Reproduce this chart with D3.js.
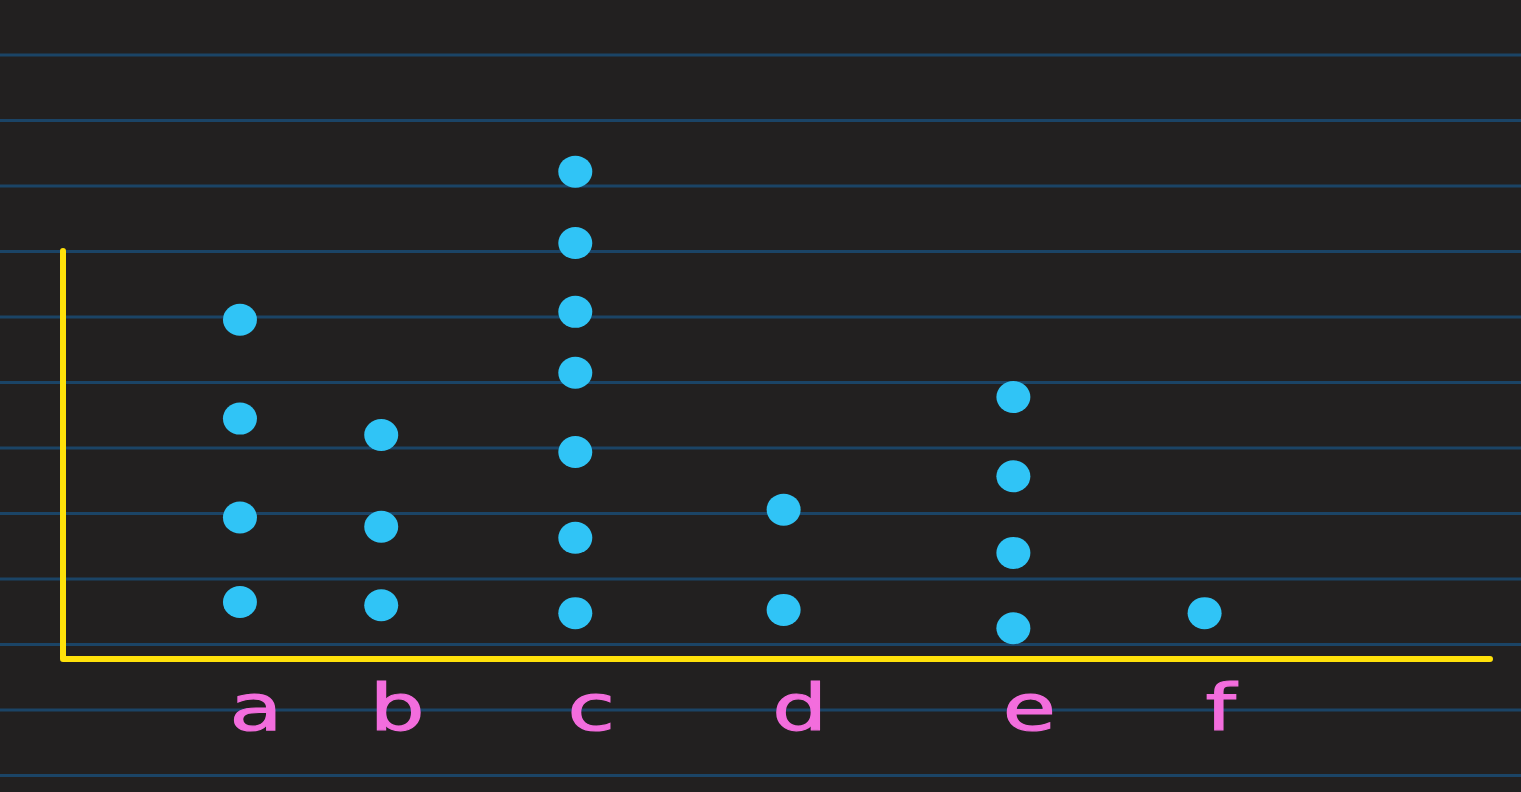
<!DOCTYPE html>
<html>
<head>
<meta charset="utf-8">
<script src="https://cdn.jsdelivr.net/npm/d3@7"></script>
<style>
  html, body { margin: 0; padding: 0; background: #222020; overflow: hidden; }
  svg { display: block; }
</style>
</head>
<body>
<svg id="chart" width="1521" height="792"></svg>
<script>
// ---- data ----
const categories = ["a", "b", "c", "d", "e", "f"];
// position of each category along the x axis (axis units 0..100)
const categoryPos = [12.4, 22.3, 35.9, 50.5, 66.6, 80.0];
// heights of the individual dots in each category (in ruled-line units above the axis)
const aValues = [0.87, 2.16, 3.67, 5.18];
const bValues = [0.82, 2.02, 3.42];
const cValues = [0.70, 1.85, 3.16, 4.37, 5.30, 6.35, 7.44];
const dValues = [0.75, 2.28];
const eValues = [0.47, 1.62, 2.79, 4.00];
const fValues = [0.70];
const seriesValues = [aValues, bValues, cValues, dValues, eValues, fValues];
// ruled background lines (same units)
const ruleLines = [-1.78, -0.78, 0.22, 1.22, 2.22, 3.22, 4.22, 5.22, 6.22, 7.22, 8.22, 9.22];
// top of the vertical axis (same units)
const axisTop = 6.23;

// ---- layout ----
const W = 1521, H = 792;
const svg = d3.select("#chart");

const x = d3.scaleLinear().domain([0, 100]).range([63, 1490]);
const y = d3.scaleLinear().domain([0, 1]).range([659, 593.5]);

// background
svg.append("rect").attr("width", W).attr("height", H).attr("fill", "#222020");

// ruled lines
svg.append("g").selectAll("line")
  .data(ruleLines)
  .join("line")
  .attr("x1", 0).attr("x2", W)
  .attr("y1", d => y(d)).attr("y2", d => y(d))
  .attr("stroke", "#1b4466").attr("stroke-width", 3);

// axes (yellow)
svg.append("path")
  .attr("d", d3.line()([[x(0), y(axisTop)], [x(0), y(0)], [x(100), y(0)]]))
  .attr("fill", "none")
  .attr("stroke", "#ffe10a")
  .attr("stroke-width", 6)
  .attr("stroke-linecap", "round")
  .attr("stroke-linejoin", "round");

// dots
const points = [];
categories.forEach((c, i) => {
  seriesValues[i].forEach(v => points.push({ cat: c, pos: categoryPos[i], value: v }));
});
svg.append("g").selectAll("ellipse")
  .data(points)
  .join("ellipse")
  .attr("cx", d => x(d.pos))
  .attr("cy", d => y(d.value))
  .attr("rx", 17)
  .attr("ry", 16)
  .attr("fill", "#30c4f6");

// category labels
svg.append("g").selectAll("text")
  .data(categories)
  .join("text")
  .attr("transform", (d, i) => `translate(${x(categoryPos[i]) + 16},${y(0) + 71}) scale(1.35,1)`)
  .attr("text-anchor", "middle")
  .attr("font-family", "DejaVu Sans, sans-serif")
  .attr("font-size", 64)
  .attr("fill", "#f36ddd")
  .attr("stroke", "#f36ddd")
  .attr("stroke-width", 1.2)
  .text(d => d);
</script>
</body>
</html>
